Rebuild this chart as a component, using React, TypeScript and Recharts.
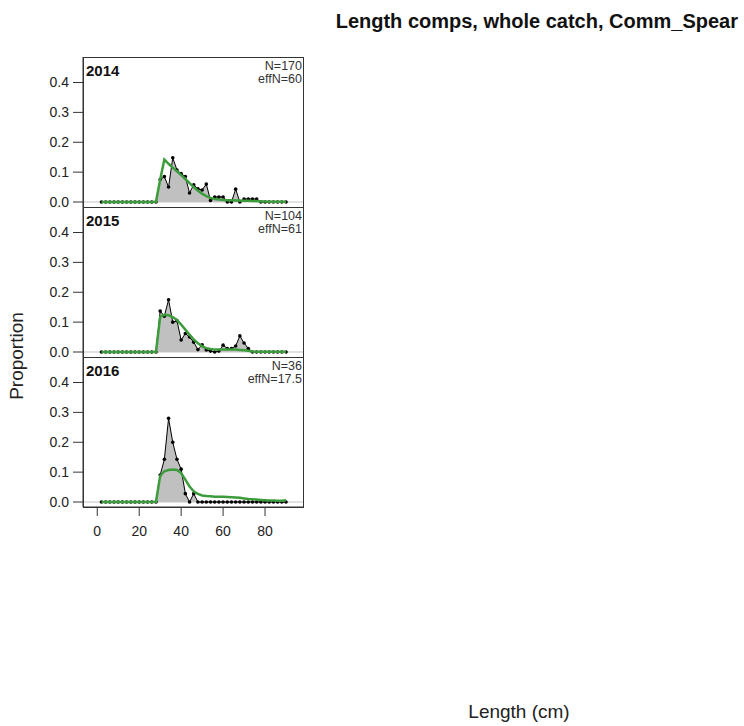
import { ComposedChart, Area, Line, XAxis, YAxis, ReferenceLine } from "recharts";

// length bins (cm)
const bins = [
  2, 4, 6, 8, 10, 12, 14, 16, 18, 20, 22, 24, 26, 28, 30, 32, 34, 36, 38, 40, 42, 44, 46,
  48, 50, 52, 54, 56, 58, 60, 62, 64, 66, 68, 70, 72, 74, 76, 78, 80, 82, 84, 86, 88, 90,
];

const years = ["2014", "2015", "2016"];
const nLabels = ["N=170", "N=104", "N=36"];
const effNLabels = ["effN=60", "effN=61", "effN=17.5"];

// observed proportions, bins 2..90
const obs2014 = [
  0, 0, 0, 0, 0, 0, 0, 0, 0, 0, 0, 0, 0, 0, 0.075, 0.085, 0.05, 0.148, 0.107, 0.095, 0.085,
  0.03, 0.058, 0.044, 0.04, 0.06, 0.005, 0.017, 0.017, 0.017, 0, 0, 0.043, 0, 0.01, 0.01,
  0.01, 0.01, 0, 0, 0, 0, 0, 0, 0,
];
const obs2015 = [
  0, 0, 0, 0, 0, 0, 0, 0, 0, 0, 0, 0, 0, 0, 0.137, 0.12, 0.175, 0.1, 0.105, 0.04, 0.062,
  0.05, 0.033, 0.008, 0.024, 0.007, 0.003, 0, 0.003, 0.023, 0.012, 0.012, 0.02, 0.054,
  0.03, 0.012, 0, 0, 0, 0, 0, 0, 0, 0, 0,
];
const obs2016 = [
  0, 0, 0, 0, 0, 0, 0, 0, 0, 0, 0, 0, 0, 0, 0.09, 0.143, 0.28, 0.2, 0.143, 0.11, 0.028, 0,
  0.028, 0, 0, 0, 0, 0, 0, 0, 0, 0, 0, 0, 0, 0, 0, 0, 0, 0, 0, 0, 0, 0, 0,
];

// expected proportions, bins 2..90
const exp2014 = [
  0, 0, 0, 0, 0, 0, 0, 0, 0, 0, 0, 0, 0, 0.001, 0.075, 0.142, 0.128, 0.115, 0.103, 0.09,
  0.077, 0.063, 0.05, 0.038, 0.028, 0.02, 0.014, 0.01, 0.008, 0.007, 0.006, 0.006, 0.005,
  0.005, 0.004, 0.004, 0.003, 0.003, 0.002, 0.002, 0.001, 0.001, 0.001, 0.001, 0.001,
];
const exp2015 = [
  0, 0, 0, 0, 0, 0, 0, 0, 0, 0, 0, 0, 0, 0.001, 0.118, 0.125, 0.123, 0.117, 0.107, 0.092,
  0.075, 0.058, 0.042, 0.029, 0.019, 0.013, 0.01, 0.008, 0.008, 0.008, 0.008, 0.008, 0.008,
  0.007, 0.006, 0.004, 0.002, 0.001, 0.001, 0.001, 0.001, 0.001, 0.001, 0.001, 0.001,
];
const exp2016 = [
  0, 0, 0, 0, 0, 0, 0, 0, 0, 0, 0, 0, 0, 0.001, 0.088, 0.103, 0.107, 0.109, 0.107, 0.097,
  0.075, 0.052, 0.036, 0.027, 0.022, 0.02, 0.019, 0.018, 0.018, 0.018, 0.017, 0.016, 0.015,
  0.014, 0.012, 0.01, 0.009, 0.008, 0.007, 0.006, 0.005, 0.005, 0.004, 0.004, 0.006,
];

const observed = [obs2014, obs2015, obs2016];
const expected = [exp2014, exp2015, exp2016];

const xTicks = [0, 20, 40, 60, 80];
const yTicks = [0, 0.1, 0.2, 0.3, 0.4];

const FONT = '"Liberation Sans", Arial, sans-serif';
const PANEL_TOP = 57;
const PANEL_H = 150;
const PLOT_L = 83;
const PLOT_W = 220;

const Panel = ({ i }: { i: number }) => {
  const last = i === years.length - 1;
  const rows = bins.map((b, k) => ({ len: b, obs: observed[i][k], exp: expected[i][k] }));
  return (
    <div style={{ position: "absolute", left: 0, top: PANEL_TOP + PANEL_H * i }}>
      <ComposedChart
        width={310}
        height={last ? PANEL_H + 40 : PANEL_H + 10}
        data={rows}
        margin={{ top: 0, right: 7, bottom: last ? 0 : 10, left: 33 }}
      >
        <XAxis
          dataKey="len"
          type="number"
          domain={[-6.8, 98.1]}
          ticks={xTicks}
          interval={0}
          allowDataOverflow
          hide={!last}
          height={40}
          tickSize={9}
          tickMargin={10}
          stroke="#333"
          tick={{ fontSize: 14, fill: "#222", fontFamily: FONT }}
        />
        <YAxis
          type="number"
          domain={[-0.0167, 0.4854]}
          ticks={yTicks}
          interval={0}
          allowDataOverflow
          width={50}
          tickSize={10}
          tickMargin={4}
          stroke="#333"
          tickFormatter={(v: number) => v.toFixed(1)}
          tick={{ fontSize: 14, fill: "#222", fontFamily: FONT }}
        />
        <ReferenceLine y={0} stroke="#c4c4c4" strokeWidth={1} />
        <Area
          dataKey="obs"
          type="linear"
          fill="#c0c0c0"
          fillOpacity={1}
          stroke="none"
          dot={false}
          activeDot={false}
          isAnimationActive={false}
        />
        <Line
          dataKey="obs"
          type="linear"
          stroke="#000"
          strokeWidth={1}
          dot={{ r: 1.8, fill: "#000", stroke: "none" }}
          activeDot={false}
          isAnimationActive={false}
        />
        <Line
          dataKey="exp"
          type="linear"
          stroke="#3c9c3c"
          strokeWidth={2.5}
          dot={false}
          activeDot={false}
          zIndex={2000}
          isAnimationActive={false}
        />
      </ComposedChart>
    </div>
  );
};

export default function App() {
  return (
    <div style={{ position: "absolute", left: 0, top: 0, width: 744, height: 726, background: "#fff", fontFamily: FONT }}>
      {years.map((_, i) => (
        <Panel key={i} i={i} />
      ))}
      <svg width={744} height={726} style={{ position: "absolute", left: 0, top: 0, pointerEvents: "none" }}>
        {years.map((y, i) => {
          const top = PANEL_TOP + PANEL_H * i;
          return (
            <g key={y} fontFamily={FONT}>
              <rect x={PLOT_L + 0.5} y={top + 0.5} width={PLOT_W} height={PANEL_H} fill="none" stroke="#333" strokeWidth={1} />
              <text x={86} y={top + 19} fontSize={15} fontWeight="bold" fill="#111">{y}</text>
              <text x={302} y={top + 13} fontSize={12.5} textAnchor="end" fill="#333">{nLabels[i]}</text>
              <text x={302} y={top + 26} fontSize={12.5} textAnchor="end" fill="#333">{effNLabels[i]}</text>
            </g>
          );
        })}
        <text x={738} y={28} fontSize={20} fontWeight="bold" textAnchor="end" fill="#111" fontFamily={FONT}>
          Length comps, whole catch, Comm_Spear
        </text>
        <text x={23} y={356} fontSize={19} textAnchor="middle" fill="#222" fontFamily={FONT} transform="rotate(-90 23 356)">
          Proportion
        </text>
        <text x={519} y={718} fontSize={19} textAnchor="middle" fill="#222" fontFamily={FONT}>
          Length (cm)
        </text>
      </svg>
    </div>
  );
}
